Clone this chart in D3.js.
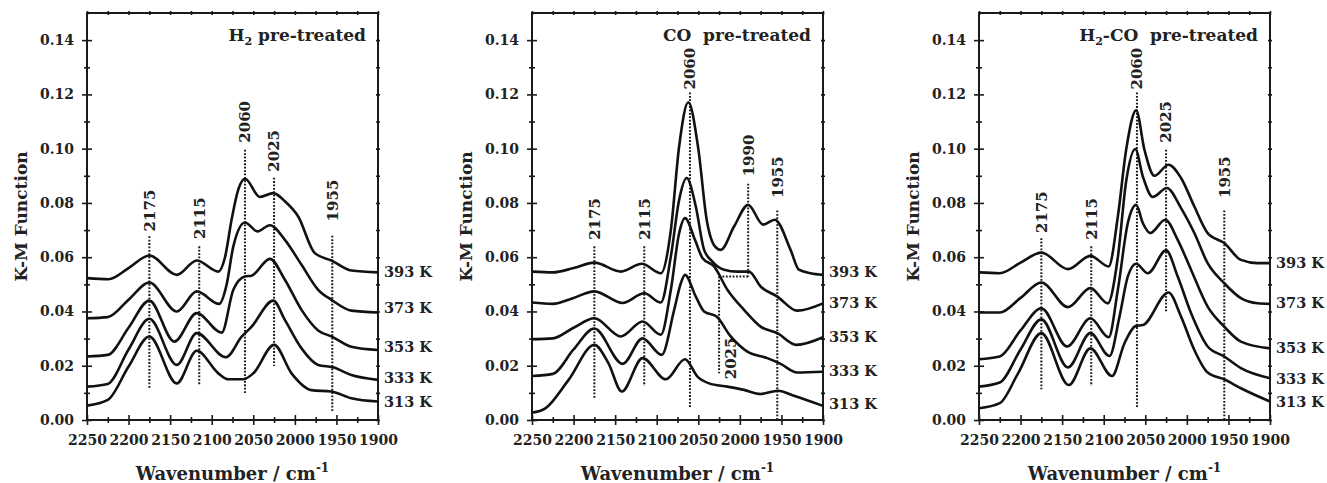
<!DOCTYPE html>
<html>
<head>
<meta charset="utf-8">
<script src="https://cdn.jsdelivr.net/npm/d3@7"></script>
<style>
  body { margin: 0; background: #fff; }
  svg text { font-family: 'DejaVu Serif', serif; font-weight: bold; fill: #222; }
</style>
</head>
<body>
<svg id="chart" width="1327" height="483"></svg>
<script>
/* global d3 */

// tick values and labels
const xTicks = [2250, 2200, 2150, 2100, 2050, 2000, 1950, 1900];
const xMinor = [2225, 2175, 2125, 2075, 2025, 1975, 1925];
const yTicks = [0, 0.02, 0.04, 0.06, 0.08, 0.10, 0.12, 0.14];
const yMinor = [0.01, 0.03, 0.05, 0.07, 0.09, 0.11, 0.13];
const temps = ['393 K', '373 K', '353 K', '333 K', '313 K'];

// H2 pre-treated  [wavenumber, K-M]
const h2K393 = [[2250, .0523], [2224, .0519], [2200, .0560], [2175, .0606], [2142, .0535], [2118, .0588], [2092, .0547], [2084, .0600], [2076, .0740], [2068, .0850], [2060, .0889], [2042, .0822], [2026, .0836], [2012, .0806], [1996, .0750], [1976, .0615], [1956, .0588], [1932, .0551], [1900, .0544]];
const h2K373 = [[2250, .0375], [2225, .0379], [2200, .0443], [2175, .0507], [2142, .0400], [2118, .0474], [2091, .0428], [2082, .0500], [2074, .0640], [2060, .0728], [2045, .0695], [2030, .0718], [2012, .0664], [1992, .0572], [1972, .0480], [1956, .0443], [1932, .0403], [1900, .0396]];
const h2K353 = [[2250, .0234], [2225, .0240], [2200, .0340], [2175, .0440], [2145, .0289], [2118, .0394], [2088, .0322], [2074, .0480], [2060, .0529], [2052, .0532], [2030, .0594], [2012, .0517], [1992, .0406], [1972, .0330], [1956, .0308], [1932, .0270], [1900, .0258]];
const h2K333 = [[2250, .0123], [2225, .0133], [2200, .0260], [2175, .0373], [2142, .0203], [2118, .0320], [2083, .0231], [2064, .0307], [2052, .0344], [2026, .0440], [2012, .0369], [1992, .0264], [1972, .0203], [1954, .0194], [1932, .0166], [1900, .0148]];
const h2K313 = [[2250, .0053], [2225, .0074], [2200, .0197], [2175, .0308], [2142, .0135], [2118, .0255], [2092, .0172], [2080, .0150], [2062, .0150], [2050, .0172], [2025, .0277], [2004, .0172], [1980, .0110], [1956, .0105], [1932, .0080], [1900, .0068]];
const h2LabelAt = [.0546, .0413, .0269, .0155, .0066];
// [wavenumber, line top, line bottom, label start]
const h2Marks = [[2175, .0677, .0117, .0695], [2115, .0640, .0129, .0667], [2060, .0996, .0098, .1022], [2025, .0893, .0199, .0915], [1955, .0679, .0031, .0732]];

// CO pre-treated
const coK393 = [[2250, .0547], [2225, .0544], [2200, .0560], [2175, .0580], [2143, .0547], [2118, .0576], [2095, .0541], [2083, .0700], [2073, .1009], [2062, .1171], [2050, .1000], [2040, .0740], [2030, .0640], [2023, .0627], [2007, .0713], [1990, .0793], [1972, .0720], [1958, .0738], [1939, .0627], [1929, .0554], [1915, .0541], [1900, .0535]];
const coK373 = [[2250, .0433], [2225, .0428], [2200, .0450], [2175, .0474], [2141, .0431], [2115, .0467], [2095, .0433], [2083, .0603], [2073, .0812], [2064, .0892], [2053, .0787], [2043, .0627], [2033, .0584], [2019, .0554], [2003, .0547], [1989, .0547], [1975, .0492], [1955, .0455], [1931, .0403], [1900, .0430]];
const coK353 = [[2250, .0298], [2225, .0301], [2200, .0340], [2175, .0375], [2143, .0308], [2117, .0363], [2095, .0314], [2083, .0480], [2073, .0689], [2066, .0744], [2054, .0664], [2045, .0597], [2031, .0566], [2015, .0480], [1995, .0406], [1975, .0344], [1955, .0320], [1932, .0277], [1900, .0305]];
const coK333 = [[2250, .0162], [2225, .0170], [2200, .0260], [2175, .0337], [2141, .0207], [2117, .0301], [2094, .0240], [2079, .0406], [2071, .0504], [2066, .0535], [2053, .0455], [2043, .0400], [2028, .0381], [2011, .0308], [1991, .0252], [1967, .0228], [1951, .0207], [1931, .0175], [1900, .0178]];
const coK313 = [[2250, .0027], [2234, .0043], [2206, .0148], [2175, .0277], [2158, .0209], [2142, .0105], [2117, .0228], [2089, .0150], [2066, .0224], [2051, .0160], [2037, .0135], [2015, .0123], [1995, .0111], [1975, .0096], [1954, .0108], [1935, .0089], [1900, .0052]];
const coLabelAt = [.0546, .0432, .0306, .0181, .0059];
const coMarks = [[2175, .0640, .0080, .0664], [2115, .0640, .0125, .0664], [2060, .1207, .0043, .1218], [1990, .0871, .0529, .0898], [1955, .0772, 0, .0818]];
// 2025 shoulder bracket: [from wn, to wn, level, bottom, label start]
const coBracket = [2025, 1990, .0529, .0172, .0150];

// H2-CO pre-treated
const hcK393 = [[2250, .0544], [2225, .0541], [2200, .0580], [2175, .0617], [2143, .0556], [2116, .0605], [2094, .0566], [2083, .0750], [2073, .0996], [2061, .1141], [2051, .0996], [2039, .0900], [2022, .0941], [2007, .0892], [1991, .0787], [1975, .0689], [1955, .0652], [1935, .0590], [1915, .0578], [1900, .0578]];
const hcK373 = [[2250, .0396], [2225, .0396], [2200, .0450], [2175, .0507], [2143, .0416], [2116, .0486], [2095, .0430], [2083, .0600], [2073, .0880], [2062, .0999], [2053, .0898], [2041, .0822], [2024, .0855], [2007, .0781], [1991, .0689], [1975, .0578], [1955, .0504], [1935, .0449], [1915, .0430], [1900, .0428]];
const hcK353 = [[2250, .0224], [2225, .0234], [2200, .0330], [2175, .0412], [2144, .0271], [2116, .0375], [2094, .0305], [2083, .0480], [2071, .0726], [2061, .0793], [2053, .0726], [2044, .0689], [2026, .0738], [2011, .0664], [1995, .0554], [1975, .0418], [1955, .0344], [1935, .0289], [1900, .0264]];
const hcK333 = [[2250, .0123], [2225, .0138], [2200, .0260], [2175, .0371], [2143, .0194], [2116, .0320], [2093, .0236], [2081, .0381], [2071, .0529], [2061, .0576], [2047, .0541], [2025, .0625], [2011, .0529], [1995, .0394], [1975, .0271], [1955, .0234], [1935, .0191], [1900, .0154]];
const hcK313 = [[2250, .0043], [2225, .0062], [2203, .0172], [2175, .0320], [2142, .0129], [2116, .0264], [2090, .0162], [2075, .0283], [2061, .0347], [2053, .0350], [2022, .0470], [2007, .0381], [1991, .0258], [1975, .0175], [1955, .0150], [1935, .0117], [1900, .0068]];
const hcLabelAt = [.0579, .0432, .0266, .0151, .0066];
const hcMarks = [[2175, .0670, .0113, .0689], [2115, .0640, .0125, .0664], [2060, .1207, .0043, .1218], [2025, .0996, .0396, .1022], [1955, .0772, 0, .0818]];

const panels = [
  { left: 87, title: [['H', 0], ['2', 1], [' pre-treated', 0]], curves: [h2K393, h2K373, h2K353, h2K333, h2K313], labelAt: h2LabelAt, marks: h2Marks },
  { left: 532, title: [['CO\u00a0 pre-treated', 0]], curves: [coK393, coK373, coK353, coK333, coK313], labelAt: coLabelAt, marks: coMarks, bracket: coBracket },
  { left: 979, title: [['H', 0], ['2', 1], ['-CO\u00a0 pre-treated', 0]], curves: [hcK393, hcK373, hcK353, hcK333, hcK313], labelAt: hcLabelAt, marks: hcMarks },
];

const plotW = 291;
const plotTop = 13;
const plotBottom = 420;
const ink = '#1a1a1a';

const svg = d3.select('#chart');

// draws ticks that cross the axis line (inside and outside)
const crossTicks = (g, make, scale, values, len) => {
  g.append('g').call(make(scale).tickValues(values).tickSize(len).tickFormat(''));
  g.append('g').call(make(scale).tickValues(values).tickSize(-len).tickFormat(''));
};

const styleAxis = (g) => {
  g.selectAll('.domain').remove();
  g.selectAll('line').attr('stroke', ink).attr('stroke-width', 1.6);
  g.selectAll('text').attr('fill', '#222').style('font-size', '14px')
    .style('font-family', "'DejaVu Serif', serif").style('font-weight', 'bold');
};

panels.forEach((p) => {
  const right = p.left + plotW;
  const x = d3.scaleLinear().domain([2250, 1900]).range([p.left, right]);
  const y = d3.scaleLinear().domain([0, 0.15]).range([plotBottom, plotTop]);
  const g = svg.append('g');

  // bottom axis with labels
  const bx = g.append('g').attr('transform', `translate(0,${plotBottom})`);
  bx.append('g').call(d3.axisBottom(x).tickValues(xTicks).tickSize(5).tickPadding(10).tickFormat(d3.format('d')));
  bx.append('g').call(d3.axisBottom(x).tickValues(xTicks).tickSize(-5).tickFormat(''));
  crossTicks(bx, d3.axisBottom, x, xMinor, 3);
  styleAxis(bx);

  // left axis with labels
  const ly = g.append('g').attr('transform', `translate(${p.left},0)`);
  ly.append('g').call(d3.axisLeft(y).tickValues(yTicks).tickSize(5).tickPadding(8).tickFormat(d3.format('.2f')));
  ly.append('g').call(d3.axisLeft(y).tickValues(yTicks).tickSize(-5).tickFormat(''));
  crossTicks(ly, d3.axisLeft, y, yMinor, 3);
  styleAxis(ly);

  // top and right small ticks
  const tx = g.append('g').attr('transform', `translate(0,${plotTop})`);
  crossTicks(tx, d3.axisTop, x, xTicks.concat(xMinor), 2);
  styleAxis(tx);
  const ry = g.append('g').attr('transform', `translate(${right},0)`);
  crossTicks(ry, d3.axisRight, y, yTicks.concat(yMinor), 2);
  styleAxis(ry);

  // frame
  g.append('rect')
    .attr('x', p.left).attr('y', plotTop)
    .attr('width', plotW).attr('height', plotBottom - plotTop)
    .attr('fill', 'none').attr('stroke', ink).attr('stroke-width', 2);

  // dotted peak markers
  const dots = g.append('g').attr('stroke', ink).attr('stroke-width', 2).attr('stroke-dasharray', '1.8,1.6');
  p.marks.forEach((m) => {
    dots.append('line')
      .attr('x1', x(m[0])).attr('x2', x(m[0]))
      .attr('y1', y(m[1])).attr('y2', y(m[2]));
    g.append('text')
      .attr('transform', `translate(${x(m[0])},${y(m[3])}) rotate(-90)`)
      .attr('dy', '0.36em')
      .attr('fill', '#333')
      .style('font-size', '15px')
      .text(m[0]);
  });
  if (p.bracket) {
    const b = p.bracket;
    dots.append('line')
      .attr('x1', x(b[0])).attr('x2', x(b[1]))
      .attr('y1', y(b[2])).attr('y2', y(b[2]));
    dots.append('line')
      .attr('x1', x(b[0])).attr('x2', x(b[0]))
      .attr('y1', y(b[2])).attr('y2', y(b[3]));
    g.append('text')
      .attr('transform', `translate(${x(b[0]) + 12},${y(b[4])}) rotate(-90)`)
      .attr('dy', '0.36em')
      .attr('fill', '#333')
      .style('font-size', '15px')
      .text(b[0]);
  }

  // spectra
  const line = d3.line()
    .x(d => x(d[0]))
    .y(d => y(d[1]))
    .curve(d3.curveMonotoneX);

  g.selectAll('.spec')
    .data(p.curves)
    .enter()
    .append('path')
    .attr('d', d => line(d))
    .attr('fill', 'none')
    .attr('stroke', '#111')
    .attr('stroke-width', 2.6)
    .attr('stroke-linejoin', 'round');

  // temperature labels
  g.selectAll('.temp')
    .data(temps)
    .enter()
    .append('text')
    .attr('x', right + 6)
    .attr('y', (d, i) => y(p.labelAt[i]))
    .attr('dy', '0.36em')
    .style('font-size', '14.5px')
    .text(d => d);

  // panel title
  const title = g.append('text')
    .attr('x', right - 12)
    .attr('y', 41)
    .attr('text-anchor', 'end')
    .style('font-size', '17px');
  p.title.forEach((t) => {
    const ts = title.append('tspan').text(t[0]);
    if (t[1]) ts.style('font-size', '11px').attr('dy', 4);
    else if (title.selectAll('tspan').size() > 1) ts.attr('dy', -4);
  });

  // axis titles
  g.append('text')
    .attr('transform', `translate(${p.left - 66},${(plotTop + plotBottom) / 2}) rotate(-90)`)
    .attr('text-anchor', 'middle')
    .attr('dy', '0.35em')
    .style('font-size', '17px')
    .text('K-M Function');

  const xl = g.append('text')
    .attr('x', p.left + plotW / 2)
    .attr('y', 480)
    .attr('text-anchor', 'middle')
    .style('font-size', '18px');
  xl.append('tspan').text('Wavenumber / cm');
  xl.append('tspan').attr('dy', -8).style('font-size', '12px').text('-1');
});
</script>
</body>
</html>
